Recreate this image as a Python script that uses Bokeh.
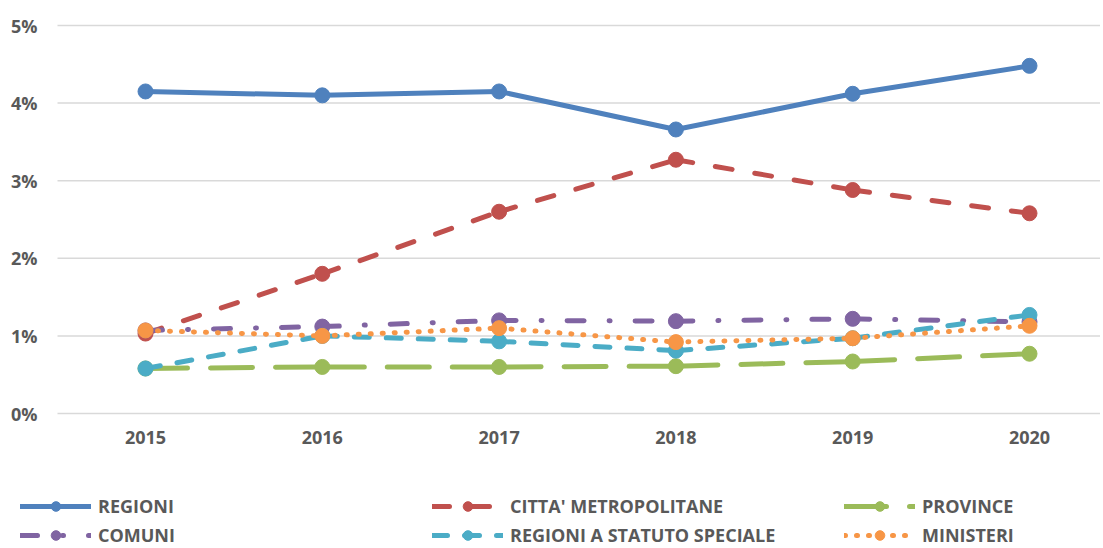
from bokeh.plotting import figure
from bokeh.models import (Range1d, FixedTicker, PrintfTickFormatter, Legend, LegendItem,
                          ColumnDataSource)
from bokeh.embed import file_html
from bokeh.resources import INLINE

years = [2015, 2016, 2017, 2018, 2019, 2020]
regioni = [4.15, 4.10, 4.15, 3.66, 4.12, 4.48]
citta_metropolitane = [1.03, 1.80, 2.60, 3.27, 2.88, 2.58]
province = [0.58, 0.60, 0.60, 0.61, 0.67, 0.77]
comuni = [1.07, 1.12, 1.20, 1.19, 1.22, 1.18]
regioni_statuto_speciale = [0.58, 1.00, 0.93, 0.81, 0.97, 1.27]
ministeri = [1.07, 1.00, 1.10, 0.92, 0.97, 1.13]
y_ticks = [0, 1, 2, 3, 4, 5]

series = [
    ("REGIONI", regioni, "#4F81BD", "solid"),
    ("CITTA' METROPOLITANE", citta_metropolitane, "#C0504D", "17 23"),
    ("PROVINCE", province, "#9BBB59", "42 23"),
    ("COMUNI", comuni, "#8064A2", "17 25 1 25"),
    ("REGIONI A STATUTO SPECIALE", regioni_statuto_speciale, "#4BACC6", "15 17"),
    ("MINISTERI", ministeri, "#F79646", "1 11"),
]

TEXT = "#595959"
FONT = "Open Sans"

# frame covers the whole figure; axes are pinned inside it
W, H = 1100, 547
PX_PER_YEAR = 176.8
PX_PER_PCT = 77.6
X0_PX, Y0_PX = 145, 413           # pixel position of (2015, 0%)
PLOT_LEFT_PX = 57                  # left edge of the plot area
x_start = years[0] - X0_PX / PX_PER_YEAR
x_end = years[0] + (W - X0_PX) / PX_PER_YEAR
y_start = -(H - Y0_PX) / PX_PER_PCT
y_end = Y0_PX / PX_PER_PCT
x_plot_left = years[0] - (X0_PX - PLOT_LEFT_PX) / PX_PER_YEAR

p = figure(width=W, height=H, output_backend="svg", toolbar_location=None,
           x_range=Range1d(x_start, x_end), y_range=Range1d(y_start, y_end),
           min_border=0)
p.outline_line_color = None
p.background_fill_color = "white"
p.border_fill_color = "white"
p.xgrid.grid_line_color = None
p.ygrid.grid_line_color = None

# horizontal gridlines over the plot area only
p.segment(x0=[x_plot_left] * len(y_ticks), y0=y_ticks, x1=[x_end] * len(y_ticks), y1=y_ticks,
          line_color="#D9D9D9", line_width=1.5)

p.yaxis.ticker = FixedTicker(ticks=y_ticks)
p.yaxis.formatter = PrintfTickFormatter(format="%d%%")
p.yaxis.fixed_location = x_plot_left
p.xaxis.ticker = FixedTicker(ticks=years)
p.xaxis.fixed_location = 0
for ax in (p.xaxis, p.yaxis):
    ax.axis_line_color = None
    ax.major_tick_line_color = None
    ax.minor_tick_line_color = None
    ax.major_tick_out = 0
    ax.major_tick_in = 0
    ax.major_label_text_font = FONT
    ax.major_label_text_font_style = "bold"
    ax.major_label_text_color = TEXT
    ax.major_label_text_font_size = "18px"
p.yaxis.major_label_standoff = 20
p.xaxis.major_label_standoff = 17

items = {}
for name, vals, color, dash in series:
    src = ColumnDataSource(dict(x0=years[:-1], y0=vals[:-1], x1=years[1:], y1=vals[1:]))
    seg = p.segment("x0", "y0", "x1", "y1", source=src, line_color=color, line_width=5,
                    line_dash=dash, line_cap="round", line_join="round")
    sc = p.scatter(years, vals, size=15, marker="circle", fill_color=color, line_color=color)
    items[name] = LegendItem(label=name, renderers=[seg, sc])

columns = [["REGIONI", "COMUNI"],
           ["CITTA' METROPOLITANE", "REGIONI A STATUTO SPECIALE"],
           ["PROVINCE", "MINISTERI"]]
for col, vx in zip(columns, [20, 432, 844]):
    lg = Legend(items=[items[n] for n in col], location=(vx, 0), orientation="vertical",
                glyph_width=71, glyph_height=24, label_height=24, spacing=5,
                label_standoff=7, padding=0, margin=0,
                border_line_color=None, background_fill_alpha=0,
                label_text_font=FONT, label_text_font_style="bold",
                label_text_color=TEXT, label_text_font_size="18px")
    p.add_layout(lg, "center")

open("out.html", "w").write(file_html(p, INLINE))
